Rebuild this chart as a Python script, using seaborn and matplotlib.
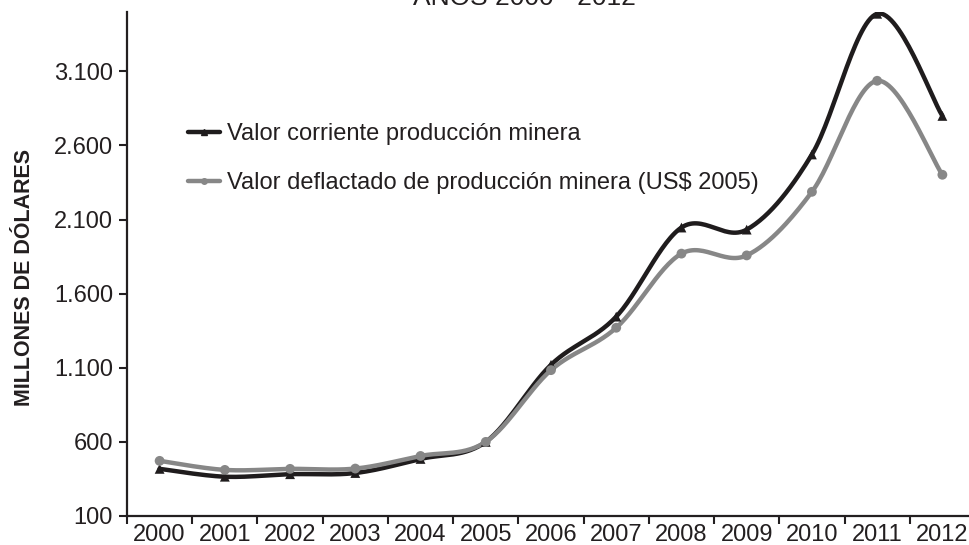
import numpy as np
import matplotlib
import matplotlib.pyplot as plt
from matplotlib.lines import Line2D
import seaborn as sns

matplotlib.use("Agg")

years = ["2000", "2001", "2002", "2003", "2004", "2005", "2006",
         "2007", "2008", "2009", "2010", "2011", "2012"]
valor_corriente = [418, 365, 382, 390, 485, 600, 1120,
                   1445, 2046, 2032, 2539, 3488, 2799]
valor_deflactado = [472, 411, 418, 420, 505, 600, 1084,
                    1370, 1870, 1858, 2287, 3036, 2402]
y_ticks = [100, 600, 1100, 1600, 2100, 2600, 3100]
y_tick_labels = ["100", "600", "1.100", "1.600", "2.100", "2.600", "3.100"]

label_corriente = "Valor corriente producción minera"
label_deflactado = "Valor deflactado de producción minera (US$ 2005)"
title = "AÑOS 2000 - 2012"
ylabel = "MILLONES DE DÓLARES"

BLACK = "#1f1c1d"
GRAY = "#878787"
TEXT = "#231f20"


def smooth(x, y, steps=30):
    # Catmull-Rom style smoothing, like Excel's "smoothed line"
    x = np.asarray(x, float)
    y = np.asarray(y, float)
    px = np.concatenate([[x[0]], x, [x[-1]]])
    py = np.concatenate([[y[0]], y, [y[-1]]])
    out_x, out_y = [], []
    t = np.linspace(0, 1, steps, endpoint=False)
    for i in range(1, len(px) - 2):
        p0x, p1x, p2x, p3x = px[i - 1:i + 3]
        p0y, p1y, p2y, p3y = py[i - 1:i + 3]
        c1x, c1y = p1x + (p2x - p0x) / 6, p1y + (p2y - p0y) / 6
        c2x, c2y = p2x - (p3x - p1x) / 6, p2y - (p3y - p1y) / 6
        bx = (1 - t) ** 3 * p1x + 3 * (1 - t) ** 2 * t * c1x + 3 * (1 - t) * t ** 2 * c2x + t ** 3 * p2x
        by = (1 - t) ** 3 * p1y + 3 * (1 - t) ** 2 * t * c1y + 3 * (1 - t) * t ** 2 * c2y + t ** 3 * p2y
        out_x.extend(bx)
        out_y.extend(by)
    out_x.append(x[-1])
    out_y.append(y[-1])
    return np.array(out_x), np.array(out_y)


sns.set_theme(style="white")
plt.rcParams["font.family"] = ["Liberation Sans", "DejaVu Sans"]

fig = plt.figure(figsize=(9.69, 5.45), dpi=100)
ax = fig.add_axes([127 / 969, 29 / 545, 848 / 969, 504 / 545])

xpos = np.arange(len(years))
for vals, color, marker, msize in [(valor_corriente, BLACK, "^", 50),
                                   (valor_deflactado, GRAY, "o", 50)]:
    sx, sy = smooth(xpos, vals)
    sns.lineplot(x=sx, y=sy, ax=ax, color=color, lw=3.2, sort=False, estimator=None)
    sns.scatterplot(x=xpos, y=vals, ax=ax, color=color, marker=marker, s=msize,
                    edgecolor="none", zorder=3)

ax.set_xlim(-0.5, len(years) - 0.5)
ax.set_ylim(100, 3500)
ax.set_yticks(y_ticks)
ax.set_yticklabels(y_tick_labels)
ax.set_xticks(xpos)
ax.set_xticklabels(years)
ax.set_xticks(np.arange(-0.5, len(years)), minor=True)
ax.tick_params(axis="x", which="major", length=0, pad=6, labelsize=17, colors=TEXT)
ax.tick_params(axis="x", which="minor", length=6, width=1.5, color=TEXT, direction="out", bottom=True)
ax.tick_params(axis="y", length=6, width=1.5, color=TEXT, direction="out", left=True,
               labelsize=17, labelcolor=TEXT, pad=4)

for side in ["top", "right"]:
    ax.spines[side].set_visible(False)
for side in ["left", "bottom"]:
    ax.spines[side].set_color(TEXT)
    ax.spines[side].set_linewidth(1.6)

ax.set_ylabel(ylabel, fontsize=15.5, fontweight="bold", color=TEXT)
ax.yaxis.set_label_coords(-0.108, 0.474)
ax.grid(False)

handles = [
    Line2D([], [], color=BLACK, lw=3.2, marker="^", markersize=4),
    Line2D([], [], color=GRAY, lw=3.2, marker="o", markersize=4),
]
ax.legend(handles, [label_corriente, label_deflactado], loc="upper left",
          bbox_to_anchor=((188 - 127) / 848, (516 - 123) / 504), frameon=False,
          fontsize=17, labelcolor=TEXT, handlelength=1.35, handletextpad=0.3,
          labelspacing=1.15, borderpad=0, borderaxespad=0)

fig.text(524 / 969, 1 - 5 / 545, title, ha="center", va="baseline", fontsize=19, color=TEXT)

fig.savefig("out.png", dpi=100)
